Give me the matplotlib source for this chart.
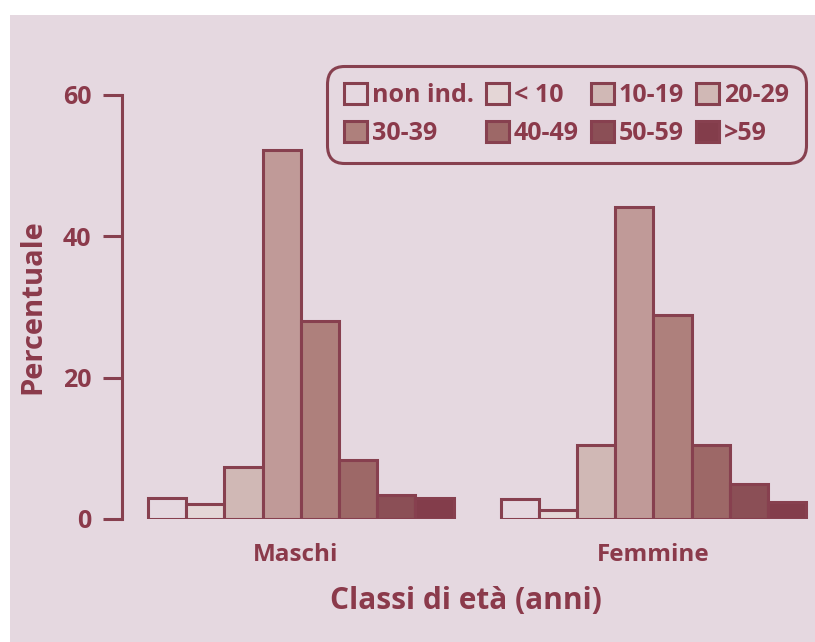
import numpy as np
import matplotlib
matplotlib.use('Agg')
import matplotlib.pyplot as plt
from matplotlib.patches import Rectangle, Patch

plt.rcParams['font.family'] = ['Open Sans', 'DejaVu Sans']
plt.rcParams['font.weight'] = 'bold'

groups = ['Maschi', 'Femmine']
classes = ['non ind.', '< 10', '10-19', '20-29', '30-39', '40-49', '50-59', '>59']
maschi = [3.0, 2.1, 7.4, 52.2, 28.0, 8.3, 3.4, 3.0]
femmine = [2.8, 1.3, 10.5, 44.1, 28.9, 10.5, 5.0, 2.4]

bg = '#e5d8e0'
dark = '#87404f'
txt = '#8b3a4b'
bar_colors = ['#e5d8e0', '#e4d6d6', '#d0b8b5', '#c09a98', '#ae807c',
              '#9d6867', '#8b4f56', '#833d4b']
# the original legend repeats the 10-19 shade for 20-29
leg_colors = ['#e5d8e0', '#e4d6d6', '#d0b8b5', '#d0b8b5', '#ae807c',
              '#9d6867', '#8b4f56', '#833d4b']

fig = plt.figure(figsize=(8.15, 6.42), dpi=100)
fig.patch.set_facecolor('white')
fig.add_artist(Rectangle((10/815, 0), 1, 1 - 15/642, transform=fig.transFigure,
                         facecolor=bg, edgecolor='none', zorder=-10))

ax = fig.add_axes([122/815, 1 - 519/642, 688/815, 424/642])
ax.set_facecolor('none')

gap = 47/38.2
for g, vals in enumerate([maschi, femmine]):
    start = g * (8 + gap)
    x = start + np.arange(8) + 0.5
    ax.bar(x, vals, width=1.0, color=bar_colors, edgecolor=dark, linewidth=2.2)

ax.set_xlim(-0.68, 17.33)
ax.set_ylim(0, 60)
ax.set_yticks([0, 20, 40, 60])
ax.set_xticks([4 - 0.13, 8 + gap + 4])
ax.set_xticklabels(groups, fontsize=17.5, color=txt, fontweight='bold')
ax.tick_params(axis='x', length=0, pad=17)
ax.tick_params(axis='y', length=14, width=2.2, color=dark, labelsize=18,
               labelcolor=txt, pad=8)
for s in ['top', 'right', 'bottom']:
    ax.spines[s].set_visible(False)
ax.spines['left'].set_color(dark)
ax.spines['left'].set_linewidth(2.2)
ax.spines['left'].set_bounds(0, 60)

ax.set_xlabel('Classi di età (anni)', fontsize=21.5, color=txt, fontweight='bold',
              labelpad=14)
ax.set_ylabel('Percentuale', fontsize=21, color=txt, fontweight='bold',
              labelpad=11)

# legend reads row by row: reorder for matplotlib's column filling
order = [0, 4, 1, 5, 2, 6, 3, 7]
handles = [Patch(facecolor=leg_colors[i], edgecolor=dark, linewidth=2.2) for i in order]
labels = [classes[i] for i in order]
leg = ax.legend(handles, labels, ncol=4, loc='upper right',
                bbox_to_anchor=(0.994, 1.068), borderaxespad=0,
                prop={'size': 18, 'weight': 'bold'},
                handlelength=0.92, handleheight=0.92, handletextpad=0.2,
                columnspacing=0.48, labelspacing=0.5, borderpad=0.68,
                frameon=True, fancybox=True)
for t in leg.get_texts():
    t.set_color(txt)
fr = leg.get_frame()
fr.set_facecolor(bg)
fr.set_edgecolor(dark)
fr.set_linewidth(2.2)
fr.set_alpha(1)
fr.set_boxstyle('round,pad=0,rounding_size=0.7')

fig.savefig('out.png', dpi=100, facecolor='white')
